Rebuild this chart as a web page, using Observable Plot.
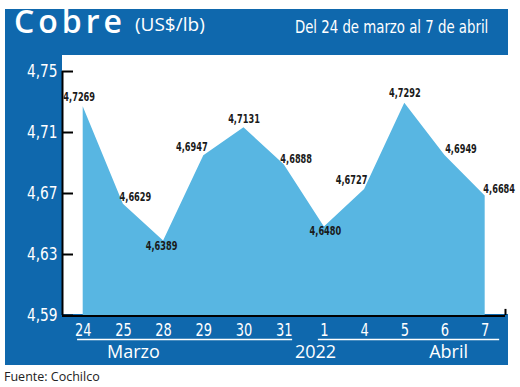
<!DOCTYPE html>
<html><head><meta charset="utf-8">
<script src="https://cdn.jsdelivr.net/npm/d3@7"></script>
<script src="https://cdn.jsdelivr.net/npm/@observablehq/plot@0.6"></script>
<style>
body{margin:0;background:#fff;}
#wrap{position:relative;width:520px;height:387px;overflow:hidden;font-family:"Open Sans",sans-serif;}
#bg{position:absolute;left:5px;top:9px;width:503px;height:356px;background:#0f68ad;}
#panel{position:absolute;left:62px;top:55px;width:458px;height:259px;background:#fff;}
#t1{position:absolute;left:14px;top:1px;font-family:"Open Sans",sans-serif;font-weight:600;font-size:32px;letter-spacing:4px;color:#fff;line-height:40px;}
#t2{position:absolute;left:135px;top:9px;font-family:"Open Sans",sans-serif;font-size:19px;color:#fff;line-height:30px;}
#t3{position:absolute;right:32px;top:12px;font-family:"DejaVu Sans Condensed","DejaVu Sans",sans-serif;font-size:17px;color:#fff;line-height:30px;transform:scaleX(0.87);transform-origin:right center;white-space:nowrap;}
#chart{position:absolute;left:5px;top:55px;}
#cap{position:absolute;left:4px;top:367px;font-family:"Open Sans",sans-serif;font-size:12.5px;color:#222;line-height:20px;}
</style></head>
<body><div id="wrap">
<div id="bg"></div><div id="panel"></div>
<div id="t1">Cobre</div><div id="t2">(US$/lb)</div>
<div id="t3">Del 24 de marzo al 7 de abril</div>
<div id="chart"></div>
<div id="cap">Fuente: Cochilco</div>
</div>
<script>
const days = ["24","25","28","29","30","31","1","4","5","6","7"];
const prices = [4.7269,4.6629,4.6389,4.6947,4.7131,4.6888,4.6480,4.6727,4.7292,4.6949,4.6684];
const yTicks = [4.59,4.63,4.67,4.71,4.75];
const groupLabels = ["Marzo","2022","Abril"];

// layout (index units on the x scale)
const xMin = -0.515, xMax = 10.58, xRightEnd = 10.505;
const pxPerUnit = 40.2;
const groupCenters = [1.25, 5.78, 9.09];
const underlines = [[-0.14, 5.21], [5.85, 10.36]];
const labelNudge = [[-4,-10],[12,-7],[-2,5],[-12,-9],[0,-9],[12,-6],[1,4],[-13,-9],[0,-10],[16,-7],[14,-7]];

const data = prices.map((v, i) => ({i, v, day: days[i]}));
const fmt4 = v => v.toFixed(4).replace(".", ",");
const fmt2 = v => v.toFixed(2).replace(".", ",");
const cond = '"DejaVu Sans Condensed","DejaVu Sans",sans-serif';
const blueLight = "#58b6e2";

const labelMarks = data.map((d, k) => Plot.text([d], {
  x: "i", y: "v", text: d => fmt4(d.v),
  dx: labelNudge[k][0], dy: labelNudge[k][1],
  fontSize: 12.5, fontWeight: "bold", fontFamily: cond, fill: "#1a1a1a"
}));

const chart = Plot.plot({
  width: 515, height: 310,
  marginLeft: 57, marginRight: 12, marginTop: 0, marginBottom: 50,
  x: {domain: [xMin, xMax], axis: null},
  y: {domain: [4.59, 4.7605], axis: null},
  style: {background: "transparent", overflow: "visible"},
  marks: [
    Plot.areaY(data, {x: "i", y1: 4.59, y2: "v", fill: blueLight}),
    Plot.ruleX([xMin], {y1: 4.59, y2: 4.75, stroke: "#000", strokeWidth: 2}),
    Plot.ruleY(yTicks, {y: d => d, x1: xMin, x2: xMin + 11 / pxPerUnit, stroke: "#000", strokeWidth: 2}),
    Plot.ruleY([4.59], {x1: xMin, x2: xRightEnd, stroke: "#000", strokeWidth: 2, dy: 0.5}),
    Plot.ruleX([xRightEnd], {y1: 4.59, y2: 4.594, stroke: "#000", strokeWidth: 2}),
    Plot.axisY(yTicks, {tickFormat: fmt2, tickSize: 0, tickPadding: 5, fontSize: 17, fontFamily: cond, fill: "#fff", label: null}),
    Plot.axisX(d3.range(days.length), {tickFormat: i => days[i], tickSize: 0, tickPadding: 8, fontSize: 17, fontFamily: cond, fill: "#fff", label: null}),
    Plot.ruleY(underlines, {y: 4.59, x1: d => d[0], x2: d => d[1], dy: 24, stroke: "#fff", strokeWidth: 1.5}),
    Plot.text(groupLabels, {x: (d, k) => groupCenters[k], y: 4.59, text: d => d, dy: 37, fontSize: 18, fontFamily: '"Open Sans",sans-serif', fill: "#fff"}),
    ...labelMarks
  ]
});
document.getElementById("chart").appendChild(chart);

function squeeze(sel, factor) {
  sel.each(function () {
    const L = this.getComputedTextLength();
    this.setAttribute("textLength", (L * factor).toFixed(1));
    this.setAttribute("lengthAdjust", "spacingAndGlyphs");
  });
}
const s = d3.select(chart);
squeeze(s.selectAll('g[font-weight="bold"] text'), 0.73);
squeeze(s.selectAll('g[aria-label="y-axis tick label"] text'), 0.9);
squeeze(s.selectAll('g[aria-label="x-axis tick label"] text'), 0.85);
</script>
</body></html>
